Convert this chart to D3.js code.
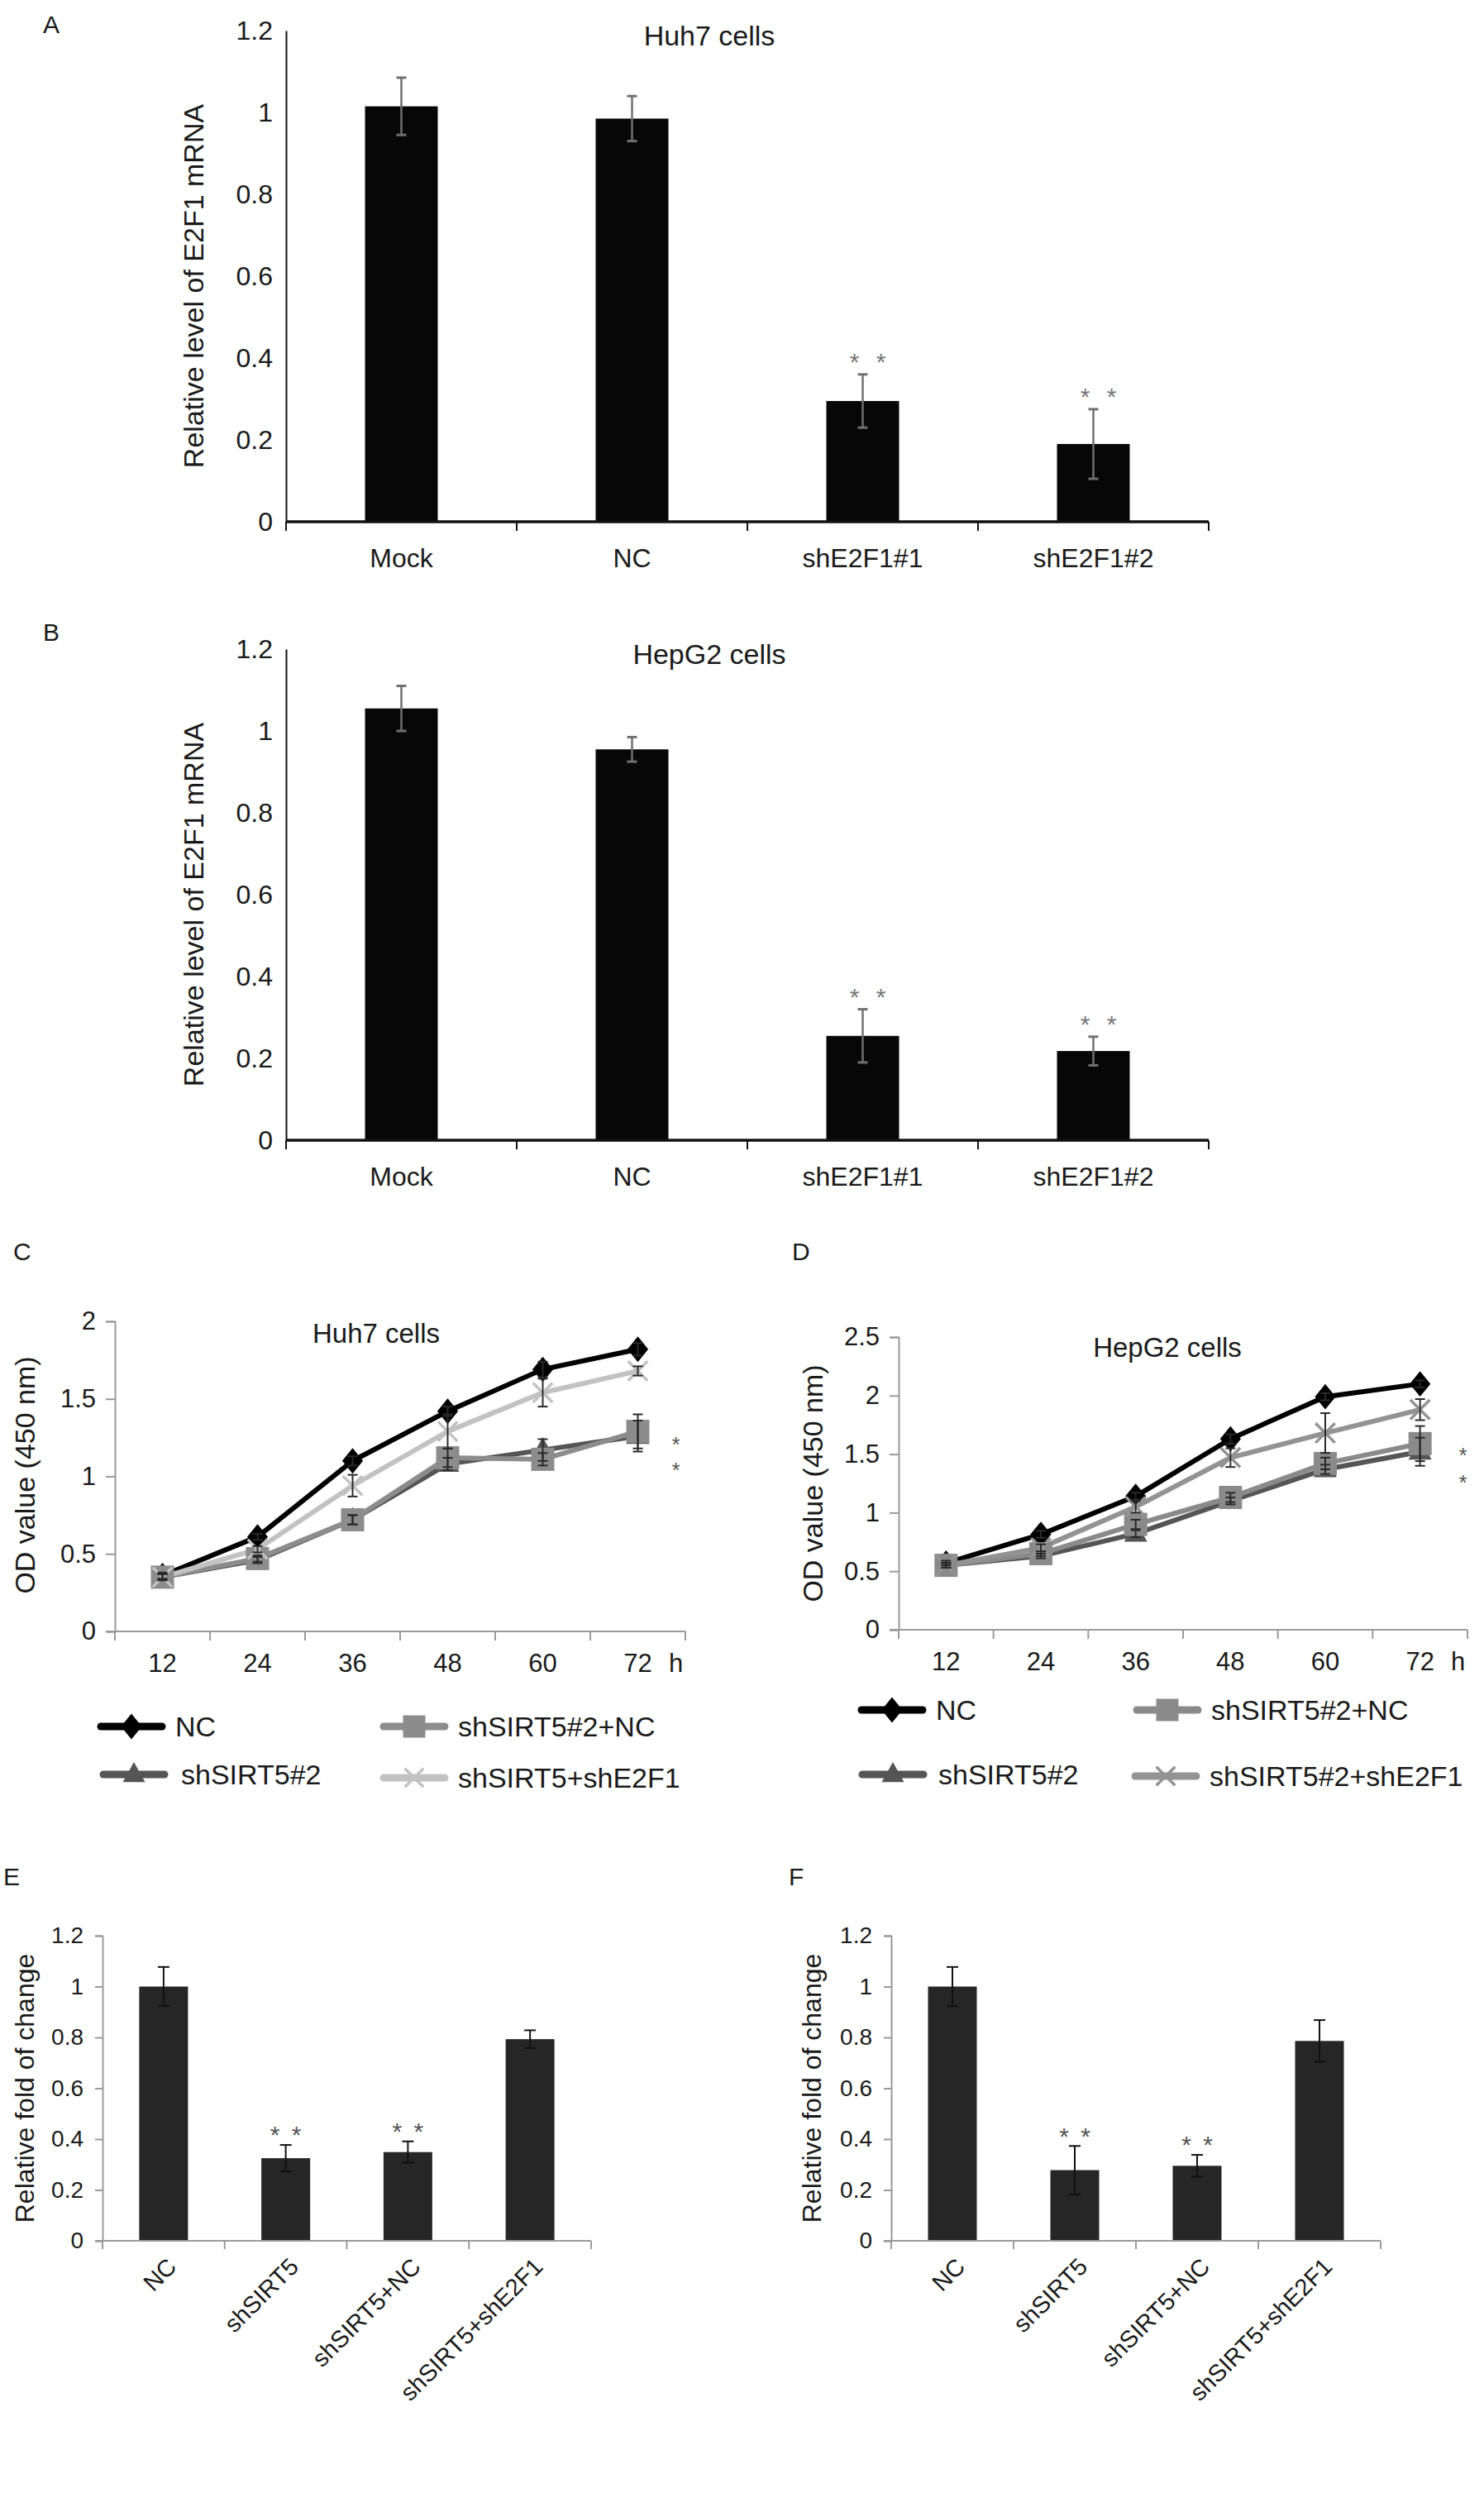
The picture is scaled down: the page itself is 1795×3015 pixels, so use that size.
<!DOCTYPE html>
<html><head><meta charset="utf-8">
<script src="https://cdn.jsdelivr.net/npm/d3@7"></script>
<style>
body{margin:0;background:#fff}
svg{display:block}
text{font-family:"Liberation Sans",Arial,Helvetica,sans-serif}
</style>
</head><body>
<svg id="c" width="1795" height="3015"></svg>
<script>
// ---------------- DATA ----------------
const mrnaCategories = ["Mock", "NC", "shE2F1#1", "shE2F1#2"];
const huh7Mrna = [1.015, 0.985, 0.295, 0.19];
const huh7MrnaErr = [0.07, 0.055, 0.065, 0.085];
const hepg2Mrna = [1.055, 0.955, 0.255, 0.218];
const hepg2MrnaErr = [0.055, 0.03, 0.065, 0.035];
const mrnaSig = [false, false, true, true];
const mrnaTicks = [0, 0.2, 0.4, 0.6, 0.8, 1, 1.2];
const mrnaTickLabels = ["0", "0.2", "0.4", "0.6", "0.8", "1", "1.2"];

const hours = ["12", "24", "36", "48", "60", "72"];
const huh7Series = ["NC", "shSIRT5#2", "shSIRT5#2+NC", "shSIRT5+shE2F1"];
const huh7NC = [0.36, 0.61, 1.10, 1.42, 1.69, 1.82];
const huh7NCErr = [0.02, 0.02, 0.03, 0.03, 0.05, 0.04];
const huh7Sh = [0.35, 0.46, 0.72, 1.08, 1.17, 1.26];
const huh7ShErr = [0.02, 0.02, 0.03, 0.04, 0.07, 0.10];
const huh7ShNC = [0.35, 0.47, 0.72, 1.12, 1.11, 1.29];
const huh7ShNCErr = [0.02, 0.02, 0.03, 0.06, 0.04, 0.11];
const huh7ShE2F1 = [0.35, 0.53, 0.94, 1.29, 1.54, 1.68];
const huh7ShE2F1Err = [0.02, 0.02, 0.07, 0.11, 0.09, 0.03];
const huh7OdTicks = [0, 0.5, 1, 1.5, 2];
const huh7OdTickLabels = ["0", "0.5", "1", "1.5", "2"];

const hepg2Series = ["NC", "shSIRT5#2", "shSIRT5#2+NC", "shSIRT5#2+shE2F1"];
const hepg2NC = [0.57, 0.815, 1.14, 1.63, 1.99, 2.10];
const hepg2NCErr = [0.02, 0.03, 0.03, 0.04, 0.03, 0.03];
const hepg2Sh = [0.55, 0.63, 0.82, 1.10, 1.37, 1.52];
const hepg2ShErr = [0.02, 0.02, 0.03, 0.03, 0.04, 0.12];
const hepg2ShNC = [0.55, 0.65, 0.90, 1.13, 1.42, 1.59];
const hepg2ShNCErr = [0.02, 0.02, 0.04, 0.04, 0.05, 0.15];
const hepg2ShE2F1 = [0.55, 0.70, 1.05, 1.47, 1.68, 1.88];
const hepg2ShE2F1Err = [0.02, 0.03, 0.05, 0.08, 0.17, 0.09];
const hepg2OdTicks = [0, 0.5, 1, 1.5, 2, 2.5];
const hepg2OdTickLabels = ["0", "0.5", "1", "1.5", "2", "2.5"];

const foldCategories = ["NC", "shSIRT5", "shSIRT5+NC", "shSIRT5+shE2F1"];
const huh7Fold = [1.0, 0.325, 0.349, 0.793];
const huh7FoldErr = [0.077, 0.052, 0.042, 0.035];
const hepg2Fold = [1.0, 0.278, 0.295, 0.786];
const hepg2FoldErr = [0.077, 0.095, 0.043, 0.082];
const foldSig = [false, true, true, false];

// ---------------- HELPERS ----------------
const svg = d3.select("#c");

function label(txt, x, y, size, opts = {}) {
  return svg.append("text").attr("x", x).attr("y", y)
    .attr("font-size", size).attr("fill", opts.fill || "#1a1a1a")
    .attr("text-anchor", opts.anchor || "start").text(txt);
}

function starPair(g, cx, cy, color, size, gap) {
  [-gap / 2, gap / 2].forEach(dx => {
    g.append("text").attr("x", cx + dx).attr("y", cy + size * 0.58)
      .attr("text-anchor", "middle").attr("font-size", size)
      .attr("fill", color).text("*");
  });
}

function styleAxis(sel, color, width, fontSize, textColor) {
  sel.select(".domain").attr("stroke", color).attr("stroke-width", width);
  sel.selectAll(".tick line").attr("stroke", color).attr("stroke-width", width);
  sel.selectAll(".tick text").attr("font-size", fontSize).attr("fill", textColor)
    .attr("font-family", '"Liberation Sans",Arial,sans-serif');
}

// ---------- Panels A/B: mRNA bars ----------
function mrnaPanel(o) {
  const g = svg.append("g");
  const x = d3.scaleBand().domain(mrnaCategories).range(o.xr);
  const y = d3.scaleLinear().domain([0, 1.2]).range([o.y0, o.y1]);
  const bw = 88;
  g.selectAll("rect.bar").data(o.vals).join("rect")
    .attr("x", (d, i) => x(mrnaCategories[i]) + (x.bandwidth() - bw) / 2)
    .attr("y", d => y(d)).attr("width", bw).attr("height", d => y(0) - y(d))
    .attr("fill", "#070707");
  o.vals.forEach((v, i) => {
    const cx = x(mrnaCategories[i]) + x.bandwidth() / 2;
    const e = o.errs[i];
    g.append("line").attr("x1", cx).attr("x2", cx).attr("y1", y(v + e)).attr("y2", y(v - e))
      .attr("stroke", "#707070").attr("stroke-width", 2.5);
    [v + e, v - e].forEach(t => g.append("line").attr("x1", cx - 6).attr("x2", cx + 6)
      .attr("y1", y(t)).attr("y2", y(t)).attr("stroke", "#707070").attr("stroke-width", 3));
    if (mrnaSig[i]) starPair(g, cx + 6, y(v + e) - 22, "#777", 30, 32);
  });
  const ya = g.append("g").attr("transform", `translate(${o.xr[0]},0)`)
    .call(d3.axisLeft(y).tickValues(mrnaTicks).tickFormat((d, i) => mrnaTickLabels[i])
      .tickSize(0).tickPadding(16));
  styleAxis(ya, "#111", 2, 32, "#1a1a1a");
  const xa = g.append("g").attr("transform", `translate(0,${y(0)})`)
    .call(d3.axisBottom(x).tickSize(0).tickPadding(32));
  xa.select(".domain").remove();
  styleAxis(xa, "#111", 2, 32, "#1a1a1a");
  g.append("line").attr("x1", o.xr[0]).attr("x2", o.xr[1]).attr("y1", y(0)).attr("y2", y(0))
    .attr("stroke", "#111").attr("stroke-width", 3.5);
  const bounds = mrnaCategories.map(c => x(c)).concat([x(mrnaCategories[3]) + x.bandwidth()]);
  bounds.forEach(b => g.append("line").attr("x1", b).attr("x2", b).attr("y1", y(0)).attr("y2", y(0) + 11)
    .attr("stroke", "#111").attr("stroke-width", 2));
  label(o.title, o.titleX, o.y1 + 18, 34, { anchor: "middle" });
  svg.append("text").attr("transform", `translate(${o.ylabX},${(o.y0 + o.y1) / 2 + 12}) rotate(-90)`)
    .attr("text-anchor", "middle").attr("font-size", 34).attr("fill", "#1a1a1a")
    .text("Relative level of E2F1 mRNA");
}

// ---------- Panels C/D: growth curves ----------
function markerPath(type, s) {
  if (type === "diamond") return `M0,${-s * 0.55}L${s * 0.45},0L0,${s * 0.55}L${-s * 0.45},0Z`;
  if (type === "square") return `M${-s / 2},${-s / 2}h${s}v${s}h${-s}Z`;
  if (type === "triangle") { const h = s * 0.9; return `M0,${-h * 0.62}L${s / 2},${h * 0.38}L${-s / 2},${h * 0.38}Z`; }
  if (type === "x") { const a = s * 0.42; return `M${-a},${-a}L${a},${a}M${-a},${a}L${a},${-a}`; }
}
function drawMarker(g, type, cx, cy, s, color) {
  const p = g.append("path").attr("d", markerPath(type, s)).attr("transform", `translate(${cx},${cy})`);
  if (type === "x") p.attr("fill", "none").attr("stroke", color).attr("stroke-width", 3.5);
  else p.attr("fill", color).attr("stroke", "none");
}

function linePanel(o) {
  const g = svg.append("g");
  const x = d3.scaleBand().domain(hours).range(o.xr);
  const y = d3.scaleLinear().domain([0, o.yMax]).range([o.y0, o.y1]);
  const cx = h => x(h) + x.bandwidth() / 2;
  const ya = g.append("g").attr("transform", `translate(${o.xr[0]},0)`)
    .call(d3.axisLeft(y).tickValues(o.ticks).tickFormat((d, i) => o.tickLabels[i]).tickSizeOuter(0).tickSize(11).tickPadding(12));
  styleAxis(ya, "#9a9a9a", 2, 31, "#1a1a1a");
  const xa = g.append("g").attr("transform", `translate(0,${y(0)})`)
    .call(d3.axisBottom(x).tickSize(0).tickPadding(27));
  xa.select(".domain").remove();
  styleAxis(xa, "#9a9a9a", 2, 31, "#1a1a1a");
  g.append("line").attr("x1", o.xr[0] - 11).attr("x2", o.xr[1]).attr("y1", y(0)).attr("y2", y(0))
    .attr("stroke", "#9a9a9a").attr("stroke-width", 2);
  hours.map(h => x(h)).concat([x(hours[5]) + x.bandwidth()]).forEach(b =>
    g.append("line").attr("x1", b).attr("x2", b).attr("y1", y(0)).attr("y2", y(0) + 11)
      .attr("stroke", "#9a9a9a").attr("stroke-width", 2));
  g.append("text").attr("x", cx(hours[5]) + 46).attr("y", y(0) + 27).attr("dy", "0.71em")
    .attr("text-anchor", "middle").attr("font-size", 31).attr("fill", "#1a1a1a").text("h");
  const line = d3.line().x((d, i) => cx(hours[i])).y(d => y(d));
  o.series.forEach(s => {
    g.append("path").datum(s.vals).attr("d", line).attr("fill", "none")
      .attr("stroke", s.color).attr("stroke-width", 6).attr("stroke-linejoin", "round");
  });
  o.series.forEach(s => {
    s.vals.forEach((v, i) => drawMarker(g, s.marker, cx(hours[i]), y(v), 28, s.color));
  });
  o.series.forEach(s => {
    s.vals.forEach((v, i) => {
      const e = s.errs[i], px = cx(hours[i]);
      g.append("line").attr("x1", px).attr("x2", px).attr("y1", y(v + e)).attr("y2", y(v - e))
        .attr("stroke", "#2a2a2a").attr("stroke-width", 2);
      [v + e, v - e].forEach(t => g.append("line").attr("x1", px - 6).attr("x2", px + 6)
        .attr("y1", y(t)).attr("y2", y(t)).attr("stroke", "#2a2a2a").attr("stroke-width", 2));
    });
  });
  // significance stars (stacked), slightly separated to keep them legible
  o.stars.forEach(sv => g.append("text").attr("x", cx(hours[5]) + o.starDx)
    .attr("y", y(sv) + 15).attr("text-anchor", "middle").attr("font-size", 26)
    .attr("fill", "#555").text("*"));
  label(o.title, o.titleX, o.titleY, 33, { anchor: "middle" });
  svg.append("text").attr("transform", `translate(${o.ylabX},${o.ylabY}) rotate(-90)`)
    .attr("text-anchor", "middle").attr("font-size", 34).attr("fill", "#1a1a1a").text("OD value (450 nm)");
  o.series.forEach((s, i) => {
    const L = o.legend[i];
    g.append("line").attr("x1", L.x).attr("x2", L.x + 74).attr("y1", L.y).attr("y2", L.y)
      .attr("stroke", s.color).attr("stroke-width", 9).attr("stroke-linecap", "round");
    drawMarker(g, s.marker, L.x + 37, L.y, s.marker === "diamond" ? 28 : 27, s.color);
    g.append("text").attr("x", L.x + 74 + L.gap).attr("y", L.y).attr("dy", "0.36em")
      .attr("font-size", 34).attr("fill", "#1a1a1a").text(s.name);
  });
}

// ---------- Panels E/F: fold change bars ----------
function foldPanel(o) {
  const g = svg.append("g");
  const x = d3.scaleBand().domain(foldCategories).range(o.xr);
  const y = d3.scaleLinear().domain([0, 1.2]).range([o.y0, o.y1]);
  const bw = 59;
  g.selectAll("rect.bar").data(o.vals).join("rect")
    .attr("x", (d, i) => x(foldCategories[i]) + (x.bandwidth() - bw) / 2)
    .attr("y", d => y(d)).attr("width", bw).attr("height", d => y(0) - y(d))
    .attr("fill", "#262626");
  o.vals.forEach((v, i) => {
    const cx = x(foldCategories[i]) + x.bandwidth() / 2, e = o.errs[i];
    g.append("line").attr("x1", cx).attr("x2", cx).attr("y1", y(v + e)).attr("y2", y(v - e))
      .attr("stroke", "#111").attr("stroke-width", 2);
    [v + e, v - e].forEach(t => g.append("line").attr("x1", cx - 7).attr("x2", cx + 7)
      .attr("y1", y(t)).attr("y2", y(t)).attr("stroke", "#111").attr("stroke-width", 2));
    if (foldSig[i]) starPair(g, cx, y(v + e) - 19, "#555", 30, 26);
  });
  const ya = g.append("g").attr("transform", `translate(${o.xr[0]},0)`)
    .call(d3.axisLeft(y).tickValues(mrnaTicks).tickFormat((d, i) => mrnaTickLabels[i]).tickSizeOuter(0).tickSize(9).tickPadding(14));
  styleAxis(ya, "#9a9a9a", 2, 28, "#1a1a1a");
  g.append("line").attr("x1", o.xr[0] - 9).attr("x2", o.xr[1]).attr("y1", y(0)).attr("y2", y(0))
    .attr("stroke", "#9a9a9a").attr("stroke-width", 2);
  foldCategories.map(c => x(c)).concat([x(foldCategories[3]) + x.bandwidth()]).forEach(b =>
    g.append("line").attr("x1", b).attr("x2", b).attr("y1", y(0)).attr("y2", y(0) + 10)
      .attr("stroke", "#9a9a9a").attr("stroke-width", 2));
  foldCategories.forEach(c => {
    const cx = x(c) + x.bandwidth() / 2 + 10, cy = y(0) + 26;
    g.append("text").attr("transform", `translate(${cx},${cy}) rotate(-45)`)
      .attr("text-anchor", "end").attr("dy", "0.35em").attr("font-size", 29).attr("fill", "#1a1a1a").text(c);
  });
  svg.append("text").attr("transform", `translate(${o.ylabX},${(o.y0 + o.y1) / 2}) rotate(-90)`)
    .attr("text-anchor", "middle").attr("dy", "0.35em").attr("font-size", 32).attr("fill", "#1a1a1a")
    .text("Relative fold of change");
}

// ---------------- DRAW ----------------
label("A", 52, 40, 30);
mrnaPanel({ xr: [346, 1462], y0: 631, y1: 37, vals: huh7Mrna, errs: huh7MrnaErr, title: "Huh7 cells", titleX: 858, ylabX: 246 });
label("B", 52, 775, 30);
mrnaPanel({ xr: [346, 1462], y0: 1379, y1: 785, vals: hepg2Mrna, errs: hepg2MrnaErr, title: "HepG2 cells", titleX: 858, ylabX: 246 });

label("C", 16, 1524, 30);
linePanel({
  xr: [139, 829], y0: 1973, y1: 1598, yMax: 2, ticks: huh7OdTicks, tickLabels: huh7OdTickLabels,
  title: "Huh7 cells", titleX: 455, titleY: 1624, ylabX: 42, ylabY: 1784,
  stars: [1.235, 1.07], starDx: 46,
  series: [
    { name: huh7Series[0], vals: huh7NC, errs: huh7NCErr, color: "#000", marker: "diamond" },
    { name: huh7Series[1], vals: huh7Sh, errs: huh7ShErr, color: "#555", marker: "triangle" },
    { name: huh7Series[2], vals: huh7ShNC, errs: huh7ShNCErr, color: "#8c8c8c", marker: "square" },
    { name: huh7Series[3], vals: huh7ShE2F1, errs: huh7ShE2F1Err, color: "#c2c2c2", marker: "x" }
  ],
  legend: [{ x: 122, y: 2088, gap: 16 }, { x: 125, y: 2146, gap: 20 }, { x: 464, y: 2088, gap: 16 }, { x: 464, y: 2150, gap: 16 }]
});

label("D", 958, 1524, 30);
linePanel({
  xr: [1087, 1775], y0: 1971, y1: 1617, yMax: 2.5, ticks: hepg2OdTicks, tickLabels: hepg2OdTickLabels,
  title: "HepG2 cells", titleX: 1412, titleY: 1641, ylabX: 995, ylabY: 1794,
  stars: [1.53, 1.30], starDx: 52,
  series: [
    { name: hepg2Series[0], vals: hepg2NC, errs: hepg2NCErr, color: "#000", marker: "diamond" },
    { name: hepg2Series[1], vals: hepg2Sh, errs: hepg2ShErr, color: "#555", marker: "triangle" },
    { name: hepg2Series[2], vals: hepg2ShNC, errs: hepg2ShNCErr, color: "#8a8a8a", marker: "square" },
    { name: hepg2Series[3], vals: hepg2ShE2F1, errs: hepg2ShE2F1Err, color: "#939393", marker: "x" }
  ],
  legend: [{ x: 1042, y: 2068, gap: 16 }, { x: 1043, y: 2146, gap: 18 }, { x: 1375, y: 2068, gap: 16 }, { x: 1373, y: 2148, gap: 16 }]
});

label("E", 4, 2280, 30);
foldPanel({ xr: [124, 715], y0: 2710, y1: 2341, vals: huh7Fold, errs: huh7FoldErr, ylabX: 30 });
label("F", 954, 2280, 30);
foldPanel({ xr: [1078, 1670], y0: 2710, y1: 2341, vals: hepg2Fold, errs: hepg2FoldErr, ylabX: 982 });
</script>
</body></html>
